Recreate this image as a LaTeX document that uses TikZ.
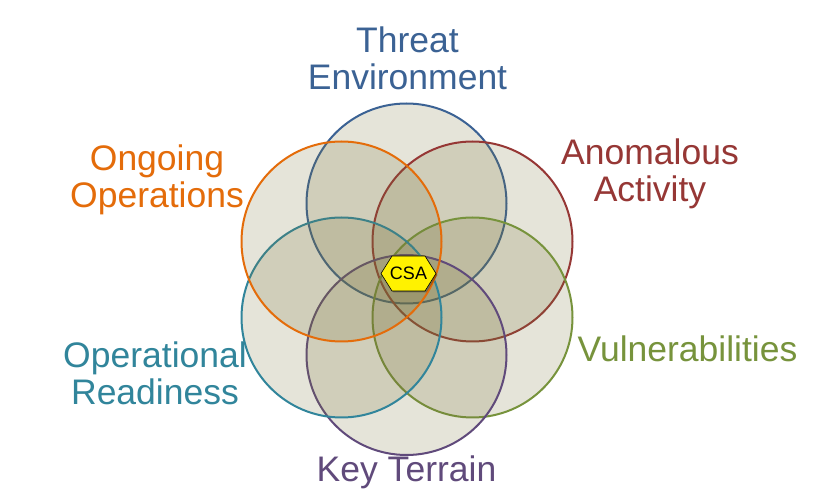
\documentclass[tikz,border=0pt]{standalone}
\usepackage{fontspec}
\setmainfont{Liberation Sans}
\definecolor{cblue}{RGB}{59,98,148}
\definecolor{corange}{RGB}{228,108,10}
\definecolor{cred}{RGB}{150,55,53}
\definecolor{cteal}{RGB}{49,133,155}
\definecolor{cgreen}{RGB}{119,147,60}
\definecolor{cpurple}{RGB}{96,74,123}
\definecolor{cfill}{RGB}{118,113,55}
\begin{document}
\begin{tikzpicture}[x=1pt,y=-1pt,
  ring/.style={circle,minimum size=200pt,inner sep=0pt,fill=cfill,fill opacity=0.19,draw=#1,line width=2pt,draw opacity=1},
  lbl/.style={font=\fontsize{35.5}{37}\selectfont,text=#1,align=center,anchor=base,inner sep=0pt},
  hexa/.style={fill=yellow,draw=black,line width=0.6pt,line join=miter}]
\useasboundingbox[fill=white] (0,0) rectangle (828,502);
\node[ring=cblue]   (top) at (406.5,203.5) {};
\node[ring=cred]    (ur)  at (472.5,241.5) {};
\node[ring=cgreen]  (lr)  at (472.5,317.5) {};
\node[ring=cpurple] (bot) at (406.5,355) {};
\node[ring=cteal]   (ll)  at (341.5,317.5) {};
\node[ring=corange] (ul)  at (341.5,241.5) {};
\coordinate (hc) at (408.5,273.5);
\fill[black,opacity=0.25] ([shift={(1.5,1.5)}]hc) ++(-27.5,0) -- ++(11,-17.5) -- ++(33,0) -- ++(11,17.5) -- ++(-11,17.5) -- ++(-33,0) -- cycle;
\draw[hexa] (hc) ++(-27.5,0) -- ++(11,-17.5) -- ++(33,0) -- ++(11,17.5) -- ++(-11,17.5) -- ++(-33,0) -- cycle;
\node[font=\fontsize{18}{18}\selectfont,inner sep=0pt] (csa) at (hc) {CSA};
\node[lbl=cblue]   (lt)  at (407.5,90)  {Threat\\Environment};
\node[lbl=corange] (lul) at (157,208)   {Ongoing\\Operations};
\node[lbl=cred]    (lur) at (650,202)   {Anomalous\\Activity};
\node[lbl=cteal]   (lll) at (155,405)   {Operational\\Readiness};
\node[lbl=cgreen]  (llr) at (687.5,362) {Vulnerabilities};
\node[lbl=cpurple] (lb)  at (406.5,482) {Key Terrain};
\end{tikzpicture}
\end{document}
